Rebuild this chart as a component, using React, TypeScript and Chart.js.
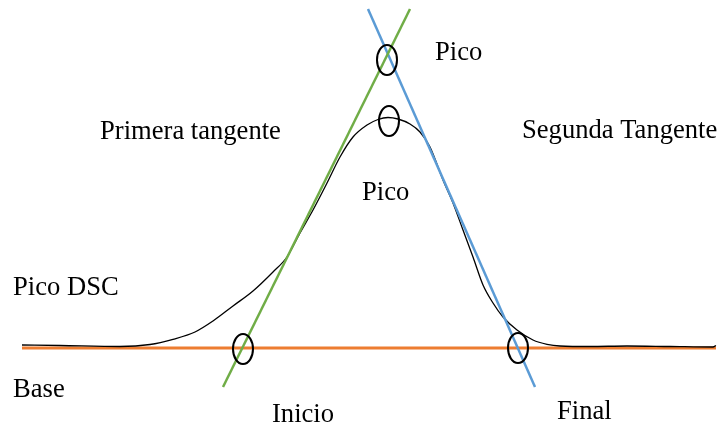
import React, { useEffect, useRef } from "react";
import { Chart, registerables } from "chart.js";

Chart.register(...registerables);

// DSC curve (x: temperature units, y: heat flow units above baseline)
const curveX = [22, 60, 120, 150, 173, 195, 213, 233, 253, 273, 287, 300, 313, 327, 340, 353, 367, 378, 388, 398, 410, 420, 430, 443, 453, 463, 473, 483, 493, 503, 517, 533, 547, 560, 590, 627, 670, 713, 716];
const curveY = [3, 2.5, 1.5, 3.5, 8.7, 16, 27, 42, 57, 76, 91, 115, 138, 165, 191, 211, 223, 228.5, 230.5, 229, 224, 216, 201, 168, 145, 118, 91, 63, 45, 31, 18, 8, 3.7, 2, 1.5, 2, 1.5, 1, 2.5];

// Baseline and tangents
const baseX = [22, 716];
const baseY = [0, 0];
const firstTanX = [223, 410];
const firstTanY = [-39, 339];
const secondTanX = [368, 535];
const secondTanY = [339, -39];

// Marked points (circles)
const markX = [387, 389, 243, 518];
const markY = [288, 227, -1, 0];

// Text labels
const labelText = ["Pico", "Primera tangente", "Segunda Tangente", "Pico", "Pico DSC", "Base", "Inicio", "Final"];
const labelX = [435, 100, 522, 362, 13, 13, 272, 557];
const labelY = [288, 209, 210, 148, 53, -49, -74, -71];

const FONT = "26.6px 'Liberation Serif', 'Times New Roman', 'DejaVu Serif', serif";

const pts = (xs: number[], ys: number[]) => xs.map((x, i) => ({ x, y: ys[i] }));

function makeEllipse(): HTMLCanvasElement {
  const c = document.createElement("canvas");
  c.width = 24;
  c.height = 34;
  const g = c.getContext("2d")!;
  g.strokeStyle = "#000000";
  g.lineWidth = 2;
  g.beginPath();
  g.ellipse(12, 17, 10, 15, 0, 0, Math.PI * 2);
  g.stroke();
  return c;
}

const labelPlugin = {
  id: "labels",
  afterDraw(chart: any) {
    const ctx = chart.ctx;
    const xs = chart.scales.x;
    const ys = chart.scales.y;
    ctx.save();
    ctx.fillStyle = "#000000";
    ctx.font = FONT;
    ctx.textAlign = "left";
    ctx.textBaseline = "alphabetic";
    labelText.forEach((t, i) => {
      ctx.fillText(t, xs.getPixelForValue(labelX[i]), ys.getPixelForValue(labelY[i]));
    });
    ctx.restore();
  },
};

export default function App() {
  const ref = useRef<HTMLCanvasElement>(null);
  useEffect(() => {
    if (!ref.current) return;
    let chart: Chart | null = null;
    let cancelled = false;
    const build = () => {
      if (cancelled || !ref.current) return;
      const ellipse = makeEllipse();
      chart = new Chart(ref.current, {
        type: "scatter",
        data: {
          datasets: [
            {
              label: "Marcas",
              data: pts(markX, markY),
              pointStyle: ellipse as any,
              pointRadius: 10,
              showLine: false,
            },
            {
              label: "Primera tangente",
              data: pts(firstTanX, firstTanY),
              showLine: true,
              borderColor: "#70AD47",
              borderWidth: 2.5,
              pointRadius: 0,
            },
            {
              label: "Segunda Tangente",
              data: pts(secondTanX, secondTanY),
              showLine: true,
              borderColor: "#5B9BD5",
              borderWidth: 2.5,
              pointRadius: 0,
            },
            {
              label: "Pico DSC",
              data: pts(curveX, curveY),
              showLine: true,
              borderColor: "#000000",
              borderWidth: 1.3,
              pointRadius: 0,
              cubicInterpolationMode: "monotone",
            },
            {
              label: "Base",
              data: pts(baseX, baseY),
              showLine: true,
              borderColor: "#ED7D31",
              borderWidth: 3,
              pointRadius: 0,
            },
          ],
        },
        options: {
          animation: false,
          responsive: false,
          maintainAspectRatio: false,
          layout: { padding: 0, autoPadding: false },
          plugins: { legend: { display: false }, tooltip: { enabled: false } },
          scales: {
            x: { type: "linear", min: 0, max: 720, display: false },
            y: { type: "linear", min: -77, max: 348, display: false },
          },
        },
        plugins: [labelPlugin],
      });
    };
    const fonts = (document as any).fonts;
    if (fonts && fonts.load) {
      fonts.load("26px 'Liberation Serif'").then(build, build);
    } else {
      build();
    }
    return () => {
      cancelled = true;
      if (chart) chart.destroy();
    };
  }, []);
  return (
    <div style={{ position: "fixed", left: 0, top: 0, width: 720, height: 425, background: "#ffffff" }}>
      <canvas ref={ref} width={720} height={425} />
    </div>
  );
}
